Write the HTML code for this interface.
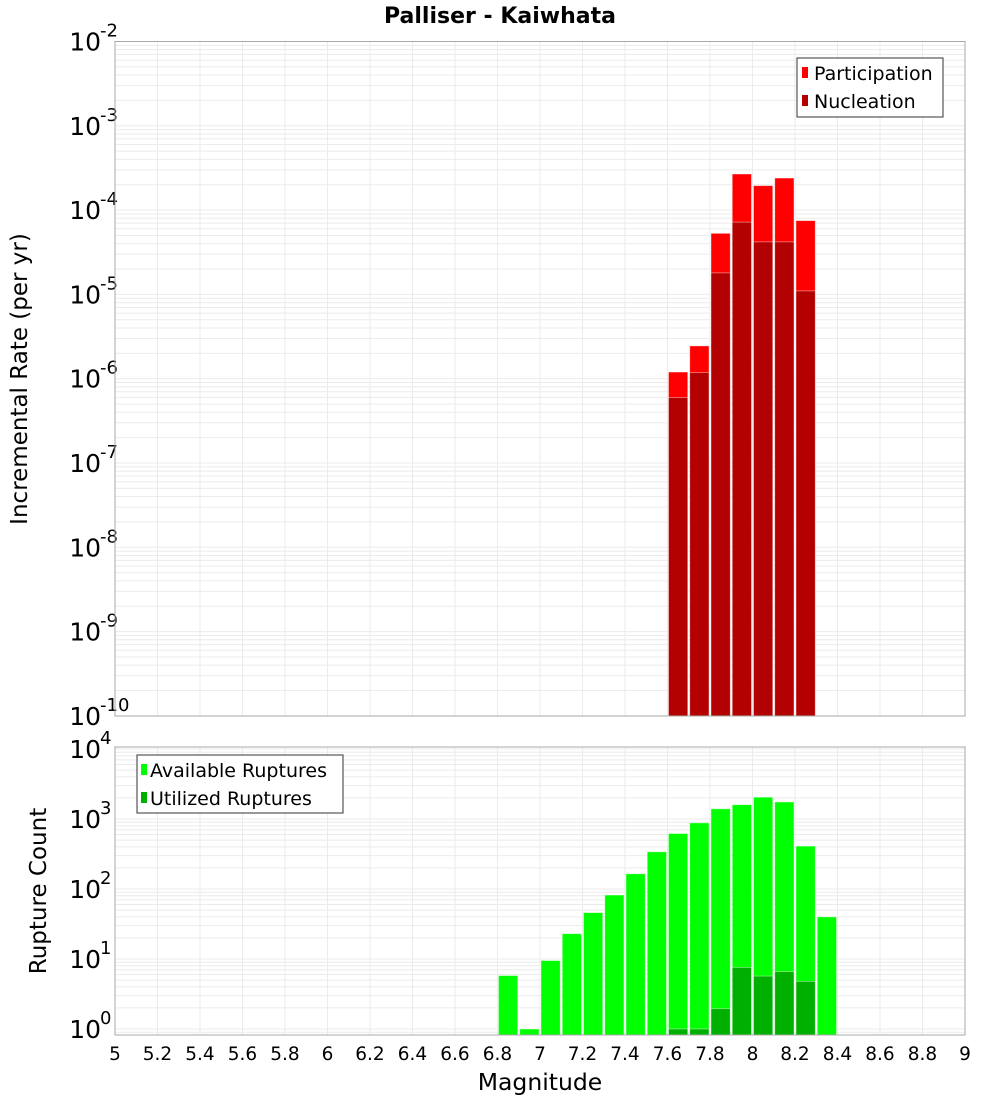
<!DOCTYPE html>
<html><head><meta charset="utf-8"><style>
body{margin:0;background:#fff}
svg{display:block;font-family:"DejaVu Sans","Liberation Sans",sans-serif}
</style></head><body>
<svg id="chart" width="1000" height="1100" viewBox="0 0 1000 1100" xmlns="http://www.w3.org/2000/svg">
<text x="500" y="23" text-anchor="middle" font-size="22" font-weight="bold">Palliser - Kaiwhata</text>
<g id="topPlot"></g>
<g id="botPlot"></g>
<text transform="translate(27,379) rotate(-90)" text-anchor="middle" font-size="23">Incremental Rate (per yr)</text>
<text transform="translate(46,891) rotate(-90)" text-anchor="middle" font-size="23">Rupture Count</text>
<text x="540" y="1090" text-anchor="middle" font-size="23.5">Magnitude</text>
<g>
<rect x="797" y="58" width="146" height="59" fill="#fff" stroke="#333" stroke-width="1"/>
<rect x="802" y="67" width="6" height="11" fill="#ff0000"/>
<text x="814" y="80" font-size="19">Participation</text>
<rect x="802" y="95" width="6" height="11" fill="#b30000"/>
<text x="814" y="108" font-size="19">Nucleation</text>
</g>
<g>
<rect x="137" y="755" width="206" height="58" fill="#fff" stroke="#333" stroke-width="1"/>
<rect x="141" y="764" width="6" height="11" fill="#00ff00"/>
<text x="150" y="777" font-size="19">Available Ruptures</text>
<rect x="141" y="792" width="6" height="11" fill="#00b000"/>
<text x="150" y="805" font-size="19">Utilized Ruptures</text>
</g>
</svg>
<script>
const binCenters = [7.65, 7.75, 7.85, 7.95, 8.05, 8.15, 8.25];
const participation = [1.2e-6, 2.45e-6, 5.3e-5, 2.68e-4, 1.95e-4, 2.4e-4, 7.5e-5];
const nucleation = [5.96e-7, 1.18e-6, 1.8e-5, 7.2e-5, 4.2e-5, 4.2e-5, 1.1e-5];
const countCenters = [6.85, 6.95, 7.05, 7.15, 7.25, 7.35, 7.45, 7.55, 7.65, 7.75, 7.85, 7.95, 8.05, 8.15, 8.25, 8.35];
const available = [5.8, 1.0, 9.5, 23, 46, 82, 165, 340, 620, 880, 1400, 1600, 2050, 1750, 410, 40];
const utilized = [0, 0, 0, 0, 0, 0, 0, 0, 1.0, 1.0, 1.95, 7.6, 5.7, 6.6, 4.8, 0];
const xTicks = [5,5.2,5.4,5.6,5.8,6,6.2,6.4,6.6,6.8,7,7.2,7.4,7.6,7.8,8,8.2,8.4,8.6,8.8,9];
const topExps = [-2,-3,-4,-5,-6,-7,-8,-9,-10];
const botExps = [4,3,2,1,0];

const NS = "http://www.w3.org/2000/svg";
const X0 = 115, X1 = 965;
const xs = m => X0 + (m - 5) / 4 * (X1 - X0);
const topY = v => 41.5 + (-2 - Math.log10(v)) * 84.3;
const botY = v => 1029 - Math.log10(v) * 70;
function mk(parent, tag, attrs) {
  const e = document.createElementNS(NS, tag);
  for (const k in attrs) e.setAttribute(k, attrs[k]);
  parent.appendChild(e); return e;
}
function panel(g, yTop, yBot, yFn, exps, minExp, maxExp) {
  for (let d = minExp; d <= maxExp; d++) {
    for (let k = 1; k <= 9; k++) {
      const y = yFn(k * Math.pow(10, d));
      if (y < yTop - 0.5 || y > yBot + 0.5) continue;
      const l = mk(g, "line", {x1: X0, x2: X1, y1: y, y2: y, stroke: "#ebebeb", "stroke-width": 1});
      
      
    }
  }
  xTicks.forEach(t => {
    const l = mk(g, "line", {x1: xs(t), x2: xs(t), y1: yTop, y2: yBot, stroke: "#ebebeb", "stroke-width": 1});
    
    
  });
  exps.forEach(e => {
    const y = yFn(Math.pow(10, e));
    const t = mk(g, "text", {x: 101, y: y + 9, "text-anchor": "end", "font-size": 25});
    t.textContent = "10";
    
    
    const s = mk(g, "text", {x: 100, y: y - 5, "font-size": 18});
    s.textContent = String(e);
    
    
  });
}
function bar(g, c, v, yFn, yBot, fill, name) {
  if (!(v > 0)) return;
  const x = xs(c - 0.05) + 1, w = xs(c + 0.05) - xs(c - 0.05) - 2;
  const y = Math.max(yFn(v), 0);
  const r = mk(g, "rect", {x: x, y: y, width: w, height: yBot - y, fill: fill, stroke: "rgba(255,255,255,0.5)", "stroke-width": 0.8});
  
  
}
const topG = document.getElementById("topPlot");
const botG = document.getElementById("botPlot");
panel(topG, 41.5, 716, topY, topExps, -10, -3);
panel(botG, 747, 1035, botY, botExps, -1, 4);
binCenters.forEach((c, i) => bar(topG, c, participation[i], topY, 716, "#ff0000", "participation-bar"));
binCenters.forEach((c, i) => bar(topG, c, nucleation[i], topY, 716, "#b30000", "nucleation-bar"));
countCenters.forEach((c, i) => bar(botG, c, available[i], botY, 1035, "#00ff00", "available-bar"));
countCenters.forEach((c, i) => bar(botG, c, utilized[i], botY, 1035, "#00b000", "utilized-bar"));
[[topG, 41.5, 716], [botG, 747, 1035]].forEach(([g, a, b]) => {
  const r = mk(g, "rect", {x: X0, y: a, width: X1 - X0, height: b - a, fill: "none", stroke: "#aaaaaa", "stroke-width": 1});
  
  
});
xTicks.forEach(t => {
  const tx = mk(botG, "text", {x: xs(t), y: 1060, "text-anchor": "middle", "font-size": 18.5});
  tx.textContent = String(t);
  
  
});
</script>
</body></html>
